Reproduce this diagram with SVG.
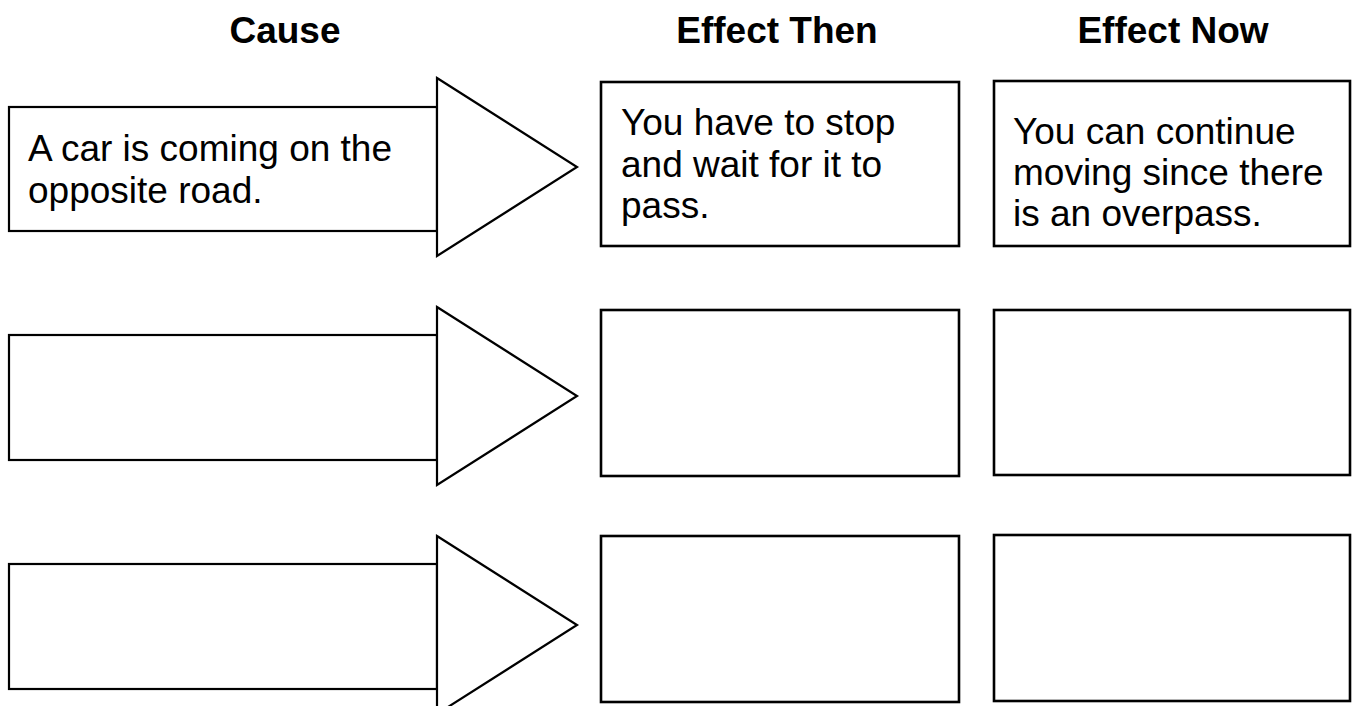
<svg xmlns="http://www.w3.org/2000/svg" width="1359" height="706" viewBox="0 0 1359 706">
<style>
.hdr{font-family:"Liberation Sans",Arial,Helvetica,sans-serif;font-weight:bold;font-size:37px;fill:#000;text-anchor:middle}
.txt{font-family:"Liberation Sans",Arial,Helvetica,sans-serif;font-size:37px;fill:#000}
.arr{fill:#fff;stroke:#000;stroke-width:2.2;stroke-linejoin:miter}
.box{fill:#fff;stroke:#000;stroke-width:2.6}
</style>
<rect width="1359" height="706" fill="#fff"/>
<g id="headers">
<text class="hdr" x="285" y="43">Cause</text>
<text class="hdr" x="777" y="43">Effect Then</text>
<text class="hdr" x="1173" y="43">Effect Now</text>
</g>
<g id="cause1">
<rect class="arr" x="9" y="107" width="428" height="124"/>
<polygon class="arr" points="437,78 577,167 437,256"/>
<text class="txt" x="28" y="161">A car is coming on the</text>
<text class="txt" x="28" y="203">opposite road.</text>
</g>
<g id="then1">
<rect class="box" x="601" y="82" width="358" height="164"/>
<text class="txt" x="621" y="135">You have to stop</text>
<text class="txt" x="621" y="176.5">and wait for it to</text>
<text class="txt" x="621" y="218">pass.</text>
</g>
<g id="now1">
<rect class="box" x="994" y="81" width="356" height="165"/>
<text class="txt" x="1013" y="144">You can continue</text>
<text class="txt" x="1013" y="185">moving since there</text>
<text class="txt" x="1013" y="226">is an overpass.</text>
</g>
<g id="cause2">
<rect class="arr" x="9" y="335" width="428" height="125"/>
<polygon class="arr" points="437,307 577,396 437,485"/>
</g>
<g id="then2">
<rect class="box" x="601" y="310" width="358" height="166"/>
</g>
<g id="now2">
<rect class="box" x="994" y="310" width="356" height="165"/>
</g>
<g id="cause3">
<rect class="arr" x="9" y="564" width="428" height="125"/>
<polygon class="arr" points="437,536 577,625 437,714"/>
</g>
<g id="then3">
<rect class="box" x="601" y="536" width="358" height="166"/>
</g>
<g id="now3">
<rect class="box" x="994" y="535" width="356" height="166"/>
</g>
<g id="connectors"></g>
</svg>
